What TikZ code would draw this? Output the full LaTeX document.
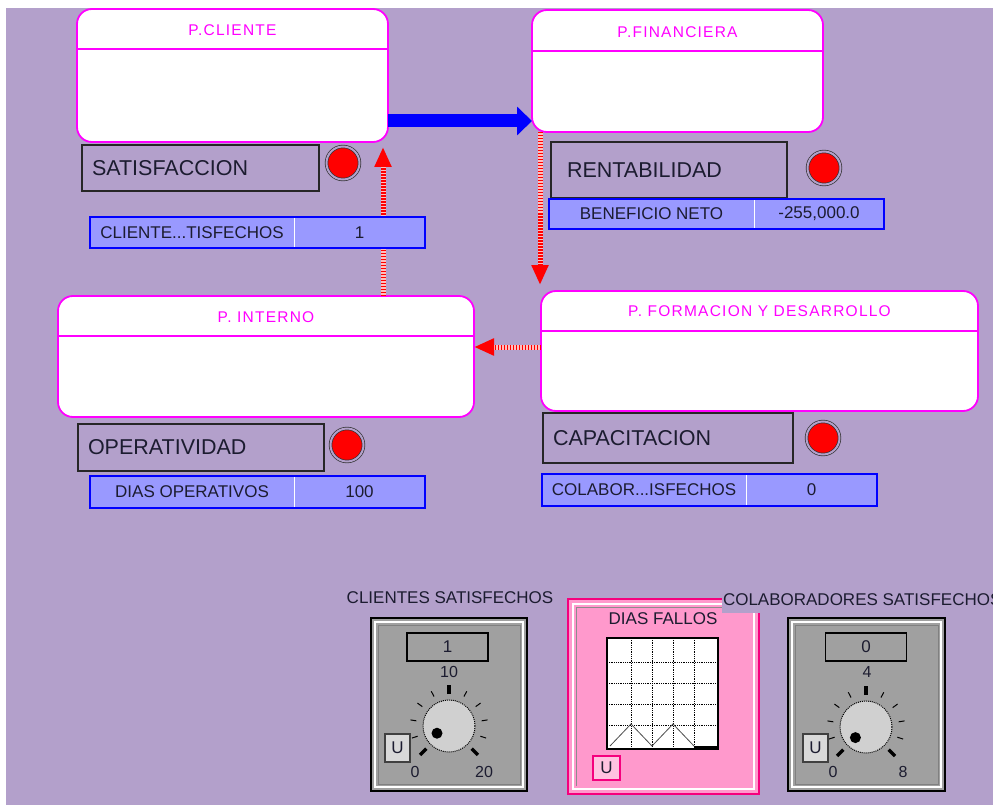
\documentclass[tikz,border=0pt]{standalone}
\usepackage{fontspec}
\setmainfont{Liberation Sans}
\newfontfamily\titlefont[LetterSpace=8]{Liberation Sans}
\usetikzlibrary{arrows.meta}

\definecolor{lavanda}{RGB}{179,160,203}
\definecolor{fucsia}{RGB}{255,0,255}
\definecolor{campoazul}{RGB}{153,153,255}
\definecolor{rosa}{RGB}{255,153,204}
\definecolor{rosafuerte}{RGB}{245,0,125}
\definecolor{gris}{RGB}{160,160,160}
\definecolor{grisclaro}{RGB}{208,208,208}
\definecolor{tinta}{RGB}{28,28,48}

\begin{document}
\begin{tikzpicture}[x=1pt, y=-1pt,
  every node/.style={inner sep=0pt, outer sep=0pt, text=tinta,
    font=\fontsize{17}{20}\selectfont},
  estado/.style={draw=fucsia, line width=1.8pt, fill=white,
    rounded corners=15pt, anchor=north west},
  cabecera/.style={draw=fucsia, line width=1.8pt},
  titulo/.style={text=fucsia, font=\titlefont\fontsize{15.5}{18}\selectfont},
  etiqueta/.style={draw=black!85, line width=1.5pt, anchor=north west,
    align=left, inner xsep=10pt, font=\fontsize{21.5}{24}\selectfont},
  lampara/.style={circle, minimum size=33pt, fill=red, draw=black!80,
    line width=0.7pt, double=lavanda, double distance=2pt},
  campo/.style={fill=campoazul, draw=white, line width=1pt, anchor=north west},
  marco/.style={draw=blue, line width=2pt},
  flechaazul/.style={draw=blue, line width=13pt,
    -{Triangle[length=15pt, width=28pt]}},
  flecharoja/.style={draw=red, line width=5pt, dash pattern=on 1.5pt off 1.5pt,
    -{Triangle[length=20pt, width=16pt]},
    preaction={draw=red!25!white, line width=5pt, solid, -, shorten >=10pt}},
  panel/.style={fill=gris, draw=black, line width=2pt, anchor=north west},
  rosapanel/.style={fill=rosa, draw=rosafuerte, line width=2.5pt, anchor=north west},
  visor/.style={fill=gris, draw=black, line width=1.5pt,
    minimum width=81pt, minimum height=28pt},
  perilla/.style={circle, minimum size=52pt, fill=grisclaro, draw=black,
    densely dotted, line width=1pt},
  boton/.style={fill=black!15, draw=black!75, line width=1.2pt,
    anchor=north west, minimum width=25pt, minimum height=28pt},
  grafica/.style={fill=white, draw=black, line width=1.2pt, anchor=north west,
    minimum width=111pt, minimum height=111pt},
  numero/.style={font=\fontsize{16}{18}\selectfont},
]
\useasboundingbox (0,0) rectangle (993,805);
\clip (0,0) rectangle (993,805);
\fill[white] (0,0) rectangle (993,805);
\fill[lavanda] (6,8) rectangle (993,805);

% perspectivas
\node[estado, minimum width=311pt, minimum height=133pt] (cli) at (77,9) {};
\draw[cabecera] ([yshift=-40pt]cli.north west) -- ([yshift=-40pt]cli.north east);
\node[titulo] (tcli) at ([yshift=-21pt]cli.north) {P.CLIENTE};

\node[estado, minimum width=291pt, minimum height=122pt] (fin) at (532,10) {};
\draw[cabecera] ([yshift=-41pt]fin.north west) -- ([yshift=-41pt]fin.north east);
\node[titulo] (tfin) at ([yshift=-22pt]fin.north) {P.FINANCIERA};

\node[estado, minimum width=416pt, minimum height=121pt] (int) at (58,296) {};
\draw[cabecera] ([yshift=-40pt]int.north west) -- ([yshift=-40pt]int.north east);
\node[titulo] (tint) at ([yshift=-21pt]int.north) {P. INTERNO};

\node[estado, minimum width=437pt, minimum height=120pt] (for) at (541,291) {};
\draw[cabecera] ([yshift=-40pt]for.north west) -- ([yshift=-40pt]for.north east);
\node[titulo] (tfor) at ([yshift=-20pt]for.north) {P. FORMACION Y DESARROLLO};

% flujo entre perspectivas
\draw[flechaazul] ([yshift=21pt]cli.south east) -- ([yshift=21pt]cli.south east -| fin.west);
\draw[flecharoja] ([xshift=8pt]fin.south west) -- ([xshift=8pt, yshift=6pt]fin.south west |- for.north);
\draw[flecharoja] ([yshift=-56pt]for.north west) -- ([yshift=-56pt]for.north west -| int.east);
\draw[flecharoja] ([xshift=325pt]int.north west) -- ([xshift=325pt, yshift=-5pt]int.north west |- cli.south);

% indicadores
\node[etiqueta, text width=217pt, minimum height=46pt] (sat) at (82,145) {SATISFACCION};
\node[lampara] (lsat) at (343,163) {};
\node[campo, minimum width=204pt, minimum height=31pt] (ncli) at (90,217) {CLIENTE...TISFECHOS};
\node[campo, minimum width=131pt, minimum height=31pt] (vcli) at (ncli.north east) {1};
\draw[marco] (ncli.north west) rectangle (vcli.south east);

\node[etiqueta, inner xsep=16pt, text width=204pt, minimum height=56pt] (ren) at (551,142) {RENTABILIDAD};
\node[lampara] (lren) at (824,168) {};
\node[campo, minimum width=205pt, minimum height=30pt] (nben) at (549,199) {BENEFICIO NETO};
\node[campo, minimum width=130pt, minimum height=30pt] (vben) at (nben.north east) {-255,000.0};
\draw[marco] (nben.north west) rectangle (vben.south east);

\node[etiqueta, text width=226pt, minimum height=47pt] (ope) at (78,424) {OPERATIVIDAD};
\node[lampara] (lope) at (347,445) {};
\node[campo, minimum width=204pt, minimum height=32pt] (ndias) at (90,476) {DIAS OPERATIVOS};
\node[campo, minimum width=131pt, minimum height=32pt] (vdias) at (ndias.north east) {100};
\draw[marco] (ndias.north west) rectangle (vdias.south east);

\node[etiqueta, text width=230pt, minimum height=50pt] (cap) at (543,413) {CAPACITACION};
\node[lampara] (lcap) at (823,438) {};
\node[campo, minimum width=204pt, minimum height=32pt] (ncol) at (542,474) {COLABOR...ISFECHOS};
\node[campo, minimum width=131pt, minimum height=32pt] (vcol) at (ncol.north east) {0};
\draw[marco] (ncol.north west) rectangle (vcol.south east);

% perilla clientes
\node (tcs) at (450,598) {CLIENTES SATISFECHOS};
\node[panel, minimum width=156pt, minimum height=173pt] (p1) at (371,618) {};
\draw[white, line width=2pt] ([shift={(4,4)}]p1.north west) rectangle ([shift={(-4,-4)}]p1.south east);
\draw[black!50, line width=0.8pt] ([shift={(7,7)}]p1.north west) rectangle ([shift={(-7,-7)}]p1.south east);
\node[visor] (v1) at (447.5,647) {1};
\node[numero] (m1) at (449,672) {10};
\node[perilla] (k1) at (449,726) {};
\foreach \a in {198,171,144,117,63,36,9,-18}
  \draw[black, line width=1pt] ([shift={(\a:33pt)}]k1.center) -- ([shift={(\a:39pt)}]k1.center);
\foreach \a in {225,90,-45}
  \draw[black, line width=3.5pt] ([shift={(\a:32pt)}]k1.center) -- ([shift={(\a:41pt)}]k1.center);
\fill[black] ([shift={(211:14pt)}]k1.center) circle (5.5pt);
\node[numero] (c1) at (415,772) {0};
\node[numero] (x1) at (484,772) {20};
\node[boton] (u1) at (385,734) {U};

% grafica dias fallos
\node[rosapanel, minimum width=191pt, minimum height=195pt] (pf) at (568,599) {};
\draw[white, line width=2pt] ([shift={(5,5)}]pf.north west) rectangle ([shift={(-5,-5)}]pf.south east);
\draw[black!45, line width=0.8pt] ([shift={(8,-8)}]pf.south west) -- ([shift={(8,8)}]pf.north west) -- ([shift={(-8,8)}]pf.north east);
\node (tdf) at (663,619) {DIAS FALLOS};
\node[grafica] (g) at (607,638) {};
\foreach \i in {1,...,4} {
  \draw[black, densely dotted, line width=0.8pt] ([xshift=3pt+21pt*\i]g.north west) -- ([xshift=3pt+21pt*\i]g.south west);
  \draw[black, densely dotted, line width=0.8pt] ([yshift=-3pt-21pt*\i]g.north west) -- ([yshift=-3pt-21pt*\i]g.north east);
}
\draw[black!70, line width=0.8pt] (610,746) -- (631,724) -- (652,746) -- (673,724) -- (694,746);
\draw[black, line width=2.5pt] (694,747) -- (717,747);
\node[boton, fill=rosa!60!white, draw=rosafuerte, minimum width=27pt, minimum height=24pt] (u3) at (593,756) {U};

% perilla colaboradores
\node[anchor=north west, fill=lavanda, minimum height=26pt, inner xsep=1pt] (tcol) at (722,587) {COLABORADORES SATISFECHOS};
\node[panel, minimum width=157pt, minimum height=173pt] (p2) at (788,618) {};
\draw[white, line width=2pt] ([shift={(4,4)}]p2.north west) rectangle ([shift={(-4,-4)}]p2.south east);
\draw[black!50, line width=0.8pt] ([shift={(7,7)}]p2.north west) rectangle ([shift={(-7,-7)}]p2.south east);
\node[visor] (v2) at (866,647) {0};
\node[numero] (m2) at (867,672) {4};
\node[perilla] (k2) at (866,727) {};
\foreach \a in {198,171,144,117,63,36,9,-18}
  \draw[black, line width=1pt] ([shift={(\a:33pt)}]k2.center) -- ([shift={(\a:39pt)}]k2.center);
\foreach \a in {225,90,-45}
  \draw[black, line width=3.5pt] ([shift={(\a:32pt)}]k2.center) -- ([shift={(\a:41pt)}]k2.center);
\fill[black] ([shift={(225:15pt)}]k2.center) circle (5.5pt);
\node[numero] (c2) at (833,772) {0};
\node[numero] (x2) at (903,772) {8};
\node[boton] (u2) at (803,734) {U};
\end{tikzpicture}
\end{document}
